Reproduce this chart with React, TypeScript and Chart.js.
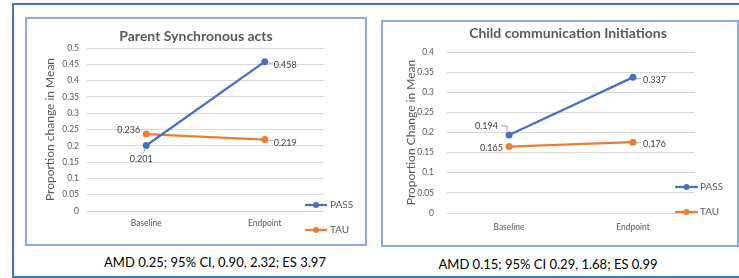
import React, { useEffect, useRef } from "react";
import { Chart, registerables } from "chart.js";

Chart.register(...registerables);

const FONT = "Lato, 'Open Sans', sans-serif";

const categories = ["Baseline", "Endpoint"];
const seriesLabels = ["PASS", "TAU"];
const seriesColors = ["#4472C4", "#ED7D31"];

const parentPass = [0.201, 0.458];
const parentTau = [0.236, 0.219];
const childPass = [0.194, 0.337];
const childTau = [0.165, 0.176];

const parentTitle = "Parent Synchronous acts";
const childTitle = "Child communication Initiations";
const parentAxisTitle = "Proportion change in Mean";
const childAxisTitle = "Proportion Change in Mean";
const parentCaption = "AMD 0.25; 95% CI, 0.90, 2.32; ES 3.97";
const childCaption = "AMD 0.15; 95% CI 0.29, 1.68; ES 0.99";
const parentYMax = 0.5;
const childYMax = 0.4;
const yStep = 0.05;

type LabelSpec = { align: CanvasTextAlign; dx: number; dy: number; leader?: number[][] };

type ChartProps = {
  left: number;
  top: number;
  w: number;
  h: number;
  series: number[][];
  yMax: number;
  title: string;
  titleX: number;
  titleY: number;
  axisTitle: string;
  yTitlePad: number;
  yWidth: number;
  yPad: number;
  xHeight: number;
  xPad: number;
  padTop: number;
  padRight: number;
  labelSpecs: LabelSpec[][];
  legendX0: number;
  legendX1: number;
  legendTextX: number;
  legendYs: number[];
};

function makeDecor(p: ChartProps) {
  return {
    id: "decor",
    afterDatasetsDraw(chart: any) {
      const ctx: CanvasRenderingContext2D = chart.ctx;
      ctx.save();
      // title
      ctx.font = `bold 14px ${FONT}`;
      ctx.fillStyle = "#595959";
      ctx.textAlign = "center";
      ctx.textBaseline = "middle";
      ctx.fillText(p.title, p.titleX, p.titleY);
      // data labels
      chart.data.datasets.forEach((ds: any, di: number) => {
        const meta = chart.getDatasetMeta(di);
        meta.data.forEach((pt: any, i: number) => {
          const spec = p.labelSpecs[di][i];
          const x = pt.x;
          const y = pt.y;
          if (spec.leader) {
            ctx.beginPath();
            spec.leader.forEach(([lx, ly], k) => {
              if (k === 0) ctx.moveTo(x + lx, y + ly);
              else ctx.lineTo(x + lx, y + ly);
            });
            ctx.strokeStyle = "#a6a6a6";
            ctx.lineWidth = 1;
            ctx.stroke();
          }
          ctx.font = `9px ${FONT}`;
          ctx.fillStyle = "#404040";
          ctx.textAlign = spec.align;
          ctx.textBaseline = "middle";
          ctx.fillText(String(ds.data[i]), x + spec.dx, y + spec.dy);
        });
      });
      // legend
      chart.data.datasets.forEach((ds: any, di: number) => {
        const ly = p.legendYs[di];
        ctx.beginPath();
        ctx.moveTo(p.legendX0, ly);
        ctx.lineTo(p.legendX1, ly);
        ctx.strokeStyle = ds.borderColor;
        ctx.lineWidth = 2.25;
        ctx.stroke();
        ctx.beginPath();
        ctx.arc((p.legendX0 + p.legendX1) / 2, ly, 3, 0, Math.PI * 2);
        ctx.fillStyle = ds.borderColor;
        ctx.fill();
        ctx.font = `10px ${FONT}`;
        ctx.fillStyle = "#595959";
        ctx.textAlign = "left";
        ctx.textBaseline = "middle";
        ctx.fillText(ds.label, p.legendTextX, ly);
      });
      ctx.restore();
    },
  };
}

function LineChart(p: ChartProps) {
  const ref = useRef<HTMLCanvasElement>(null);
  useEffect(() => {
    if (!ref.current) return;
    const chart = new Chart(ref.current, {
      type: "line",
      data: {
        labels: categories,
        datasets: p.series.map((values, k) => ({
          label: seriesLabels[k],
          data: values,
          borderColor: seriesColors[k],
          backgroundColor: seriesColors[k],
          borderWidth: 2.25,
          pointRadius: 3.5,
          pointBackgroundColor: seriesColors[k],
          pointBorderColor: seriesColors[k],
          pointBorderWidth: 0,
          tension: 0,
          fill: false,
        })),
      },
      options: {
        responsive: false,
        animation: false,
        events: [],
        layout: { padding: { top: p.padTop, right: p.padRight, left: 0, bottom: 0 } },
        plugins: {
          legend: { display: false },
          tooltip: { enabled: false },
          title: { display: false },
        },
        scales: {
          x: {
            offset: true,
            grid: { display: false, drawTicks: false },
            border: { display: false },
            ticks: { color: "#595959", font: { family: FONT, size: 8.5 }, padding: p.xPad, maxRotation: 0 },
            afterFit: (s: any) => {
              s.height = p.xHeight;
            },
          },
          y: {
            min: 0,
            max: p.yMax,
            ticks: {
              stepSize: yStep,
              padding: p.yPad,
              color: "#595959",
              font: { family: FONT, size: 8.5 },
              callback: (v: any) => String(Number(Number(v).toFixed(2))),
            },
            grid: { color: "#d9d9d9", drawTicks: false, lineWidth: 1 },
            border: { display: false },
            title: {
              display: true,
              text: p.axisTitle,
              color: "#595959",
              font: { family: FONT, size: 12 },
              padding: { top: p.yTitlePad, bottom: 0 },
            },
            afterFit: (s: any) => {
              s.width = p.yWidth;
            },
          },
        },
      },
      plugins: [makeDecor(p)],
    } as any);
    return () => chart.destroy();
  }, []);
  return (
    <canvas
      ref={ref}
      width={p.w}
      height={p.h}
      style={{ position: "absolute", left: p.left, top: p.top, width: p.w, height: p.h }}
    />
  );
}

const parentSpecs: LabelSpec[][] = [
  [
    { align: "center", dx: -5, dy: 14, leader: [[-1, 3], [-3, 8]] },
    { align: "left", dx: 9, dy: 3, leader: [[4, 1.5], [8, 1.5]] },
  ],
  [
    { align: "right", dx: -6, dy: -4 },
    { align: "left", dx: 9, dy: 3, leader: [[4, 1], [8, 1]] },
  ],
];

const childSpecs: LabelSpec[][] = [
  [
    { align: "right", dx: -11, dy: -9, leader: [[-8, -9], [-2, -9], [-2, -4]] },
    { align: "left", dx: 10, dy: 2.5, leader: [[3, 1.5], [8, 1.5]] },
  ],
  [
    { align: "right", dx: -6, dy: 1.5 },
    { align: "left", dx: 10, dy: 1.5, leader: [[3, 0.5], [8, 0.5]] },
  ],
];

export default function App() {
  return (
    <div
      style={{
        position: "absolute",
        left: 0,
        top: 0,
        width: 739,
        height: 278,
        background: "#ffffff",
        overflow: "hidden",
        fontFamily: FONT,
      }}
    >
      <div
        style={{
          position: "absolute",
          left: 12,
          top: 3,
          width: 760,
          height: 271,
          border: "2px solid #4472C4",
        }}
      />
      <div
        style={{
          position: "absolute",
          left: 25,
          top: 17,
          width: 338,
          height: 225,
          border: "2px solid #8EAADB",
        }}
      />
      <div
        style={{
          position: "absolute",
          left: 381,
          top: 20,
          width: 354,
          height: 223,
          border: "2px solid #8EAADB",
        }}
      />
      <LineChart
        left={27}
        top={19}
        w={338}
        h={225}
        series={[parentPass, parentTau]}
        yMax={parentYMax}
        title={parentTitle}
        titleX={169}
        titleY={17}
        axisTitle={parentAxisTitle}
        yTitlePad={16}
        yWidth={60}
        yPad={8}
        xHeight={33}
        xPad={7}
        padTop={29}
        padRight={41}
        labelSpecs={parentSpecs}
        legendX0={278}
        legendX1={300}
        legendTextX={303}
        legendYs={[186, 211]}
      />
      <LineChart
        left={383}
        top={22}
        w={354}
        h={223}
        series={[childPass, childTau]}
        yMax={childYMax}
        title={childTitle}
        titleX={185}
        titleY={11}
        axisTitle={childAxisTitle}
        yTitlePad={21}
        yWidth={64}
        yPad={13}
        xHeight={32}
        xPad={9}
        padTop={30}
        padRight={42}
        labelSpecs={childSpecs}
        legendX0={292}
        legendX1={315}
        legendTextX={317}
        legendYs={[165, 190]}
      />
      <div
        style={{
          position: "absolute",
          left: 215 - 150,
          width: 300,
          top: 253,
          textAlign: "center",
          fontSize: 13,
          lineHeight: "18px",
          color: "#000",
        }}
      >
        {parentCaption}
      </div>
      <div
        style={{
          position: "absolute",
          left: 548 - 150,
          width: 300,
          top: 255,
          textAlign: "center",
          fontSize: 13,
          lineHeight: "18px",
          color: "#000",
        }}
      >
        {childCaption}
      </div>
    </div>
  );
}
